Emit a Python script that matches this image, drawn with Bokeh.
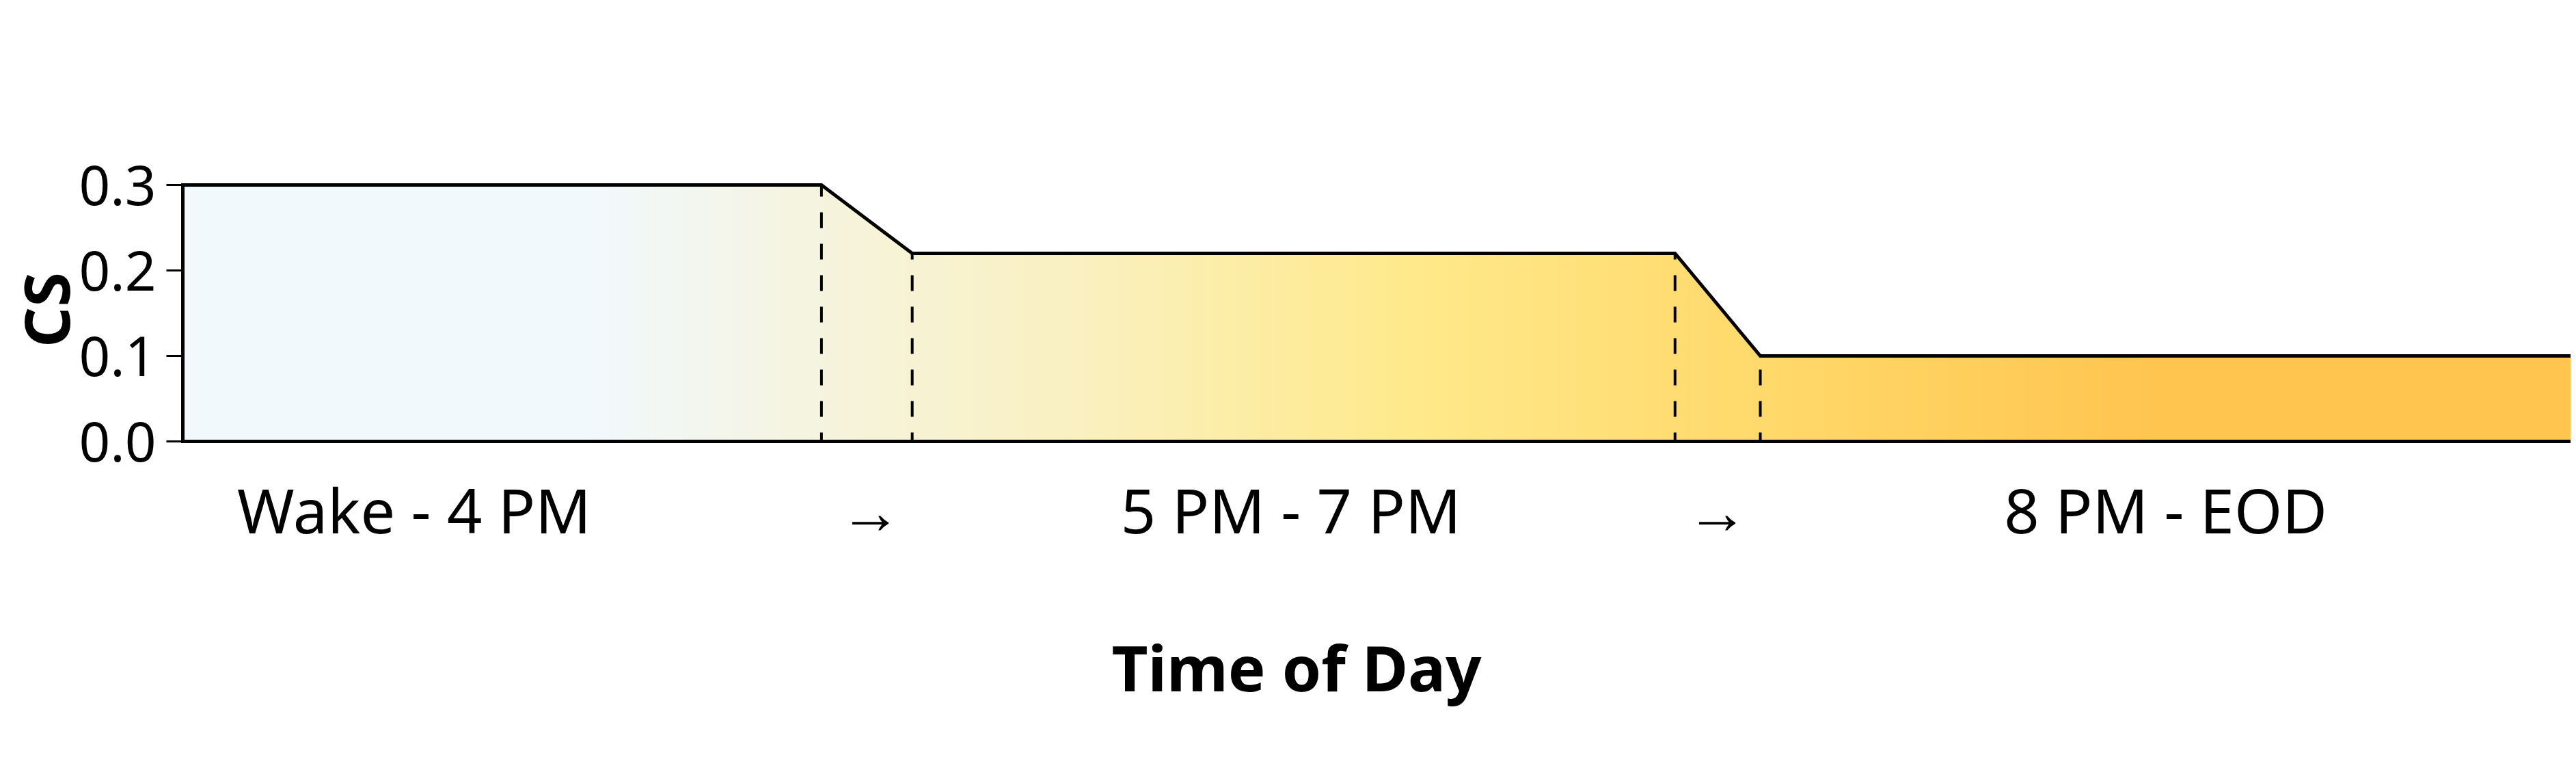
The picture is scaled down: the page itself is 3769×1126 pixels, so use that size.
import numpy as np
from bokeh.plotting import figure
from bokeh.models import Range1d, FixedTicker, NumeralTickFormatter, Title, LinearAxis
from bokeh.embed import file_html
from bokeh.resources import INLINE

# ---- data ----
x_break = [0.0, 9.36, 10.69, 21.87, 23.12, 35.0]      # profile breakpoints (position units)
cs = [0.30, 0.30, 0.22, 0.22, 0.10, 0.10]            # CS value at each breakpoint
tick_pos = [3.39, 10.08, 16.24, 22.49, 29.06]
tick_labels = ["Wake - 4 PM", "→", "5 PM - 7 PM", "→", "8 PM - EOD"]
y_ticks = [0.0, 0.1, 0.2, 0.3]
grad_pos = [0.0, 6.0, 9.4, 13.0, 17.9, 23.0, 29.0, 35.0]
grad_col = ["#F2F9FD", "#F2F9FD", "#F6F4DE", "#FAF1C2", "#FFEA8C", "#FFDA6C", "#FFC54F", "#FFC54F"]

FONT = "Noto Sans"

p = figure(width=3761, height=1118, output_backend="svg", toolbar_location=None,
           x_range=Range1d(-0.03, 35.0), y_range=Range1d(-0.0024, 0.3104),
           min_border_left=258, min_border_right=0, min_border_top=257, min_border_bottom=470)
p.outline_line_color = None
p.xgrid.visible = False
p.ygrid.visible = False
p.background_fill_color = "white"
p.border_fill_color = "white"

# gradient fill
N = 700
gx = np.linspace(x_break[0], x_break[-1], N)
chan = []
for i in (1, 3, 5):
    chan.append(np.interp(gx, grad_pos, [int(c[i:i + 2], 16) for c in grad_col]))
img = np.zeros((1, N), dtype=np.uint32)
view = img.view(dtype=np.uint8).reshape((1, N, 4))
view[0, :, 0] = chan[0]
view[0, :, 1] = chan[1]
view[0, :, 2] = chan[2]
view[0, :, 3] = 255
p.image_rgba(image=[img], x=x_break[0], y=0, dw=x_break[-1] - x_break[0], dh=max(cs))

# white mask above the profile
mx = [x_break[0] - 0.5] + x_break + [x_break[-1] + 0.5, x_break[-1] + 0.5, x_break[0] - 0.5]
my = [cs[0]] + cs + [cs[-1], 0.4, 0.4]
p.patch(mx, my, fill_color="white", line_color=None)

# dashed verticals at transitions
p.segment(x0=x_break[1:5], y0=[0] * 4, x1=x_break[1:5], y1=cs[1:5],
          line_color="black", line_width=4, line_dash="23 23", line_dash_offset=10)

# outline
ox = [x_break[-1], x_break[0]] + x_break
oy = [0, 0] + cs
p.line(ox, oy, line_color="black", line_width=5, line_join="miter")

# y axis
p.yaxis.ticker = FixedTicker(ticks=y_ticks)
p.yaxis.formatter = NumeralTickFormatter(format="0.0")
p.yaxis.axis_line_color = None
p.yaxis.major_tick_out = 21
p.yaxis.major_tick_in = 2
p.yaxis.major_tick_line_width = 3
p.yaxis.major_tick_line_color = "black"
p.yaxis.minor_tick_line_color = None
p.yaxis.major_label_text_font = FONT
p.yaxis.major_label_text_font_size = "80px"
p.yaxis.major_label_text_color = "black"
p.yaxis.major_label_standoff = 15
p.yaxis.axis_label = "CS"
p.yaxis.axis_label_text_font = FONT
p.yaxis.axis_label_text_font_size = "92px"
p.yaxis.axis_label_text_font_style = "bold"
p.yaxis.axis_label_text_color = "black"
p.yaxis.axis_label_standoff = -16

# x axis
p.xaxis.ticker = FixedTicker(ticks=tick_pos)
p.xaxis.major_label_overrides = {t: l for t, l in zip(tick_pos, tick_labels)}
p.xaxis.axis_line_color = None
p.xaxis.major_tick_out = 0
p.xaxis.major_tick_in = 0
p.xaxis.major_tick_line_color = None
p.xaxis.minor_tick_line_color = None
p.xaxis.major_label_text_font = FONT
p.xaxis.major_label_text_font_size = "90px"
p.xaxis.major_label_text_color = "black"
p.xaxis.major_label_standoff = 35

# invisible spacer axis (white tick on white, empty label) to push the x title down
spacer_tick = [x_break[-1] / 2]
spacer = LinearAxis(ticker=FixedTicker(ticks=spacer_tick), axis_line_color=None,
                    major_tick_line_color="white", minor_tick_line_color=None,
                    major_tick_out=102, major_tick_in=0, minor_tick_out=0, minor_tick_in=0,
                    major_label_overrides={spacer_tick[0]: ""}, major_label_standoff=0,
                    major_label_text_font_size="1px")
p.add_layout(spacer, "below")

p.add_layout(Title(text="Time of Day", align="left", offset=1362, standoff=0,
                   text_font=FONT, text_font_size="92px", text_font_style="bold",
                   text_color="black"), "below")

open("out.html", "w").write(file_html(p, INLINE))
